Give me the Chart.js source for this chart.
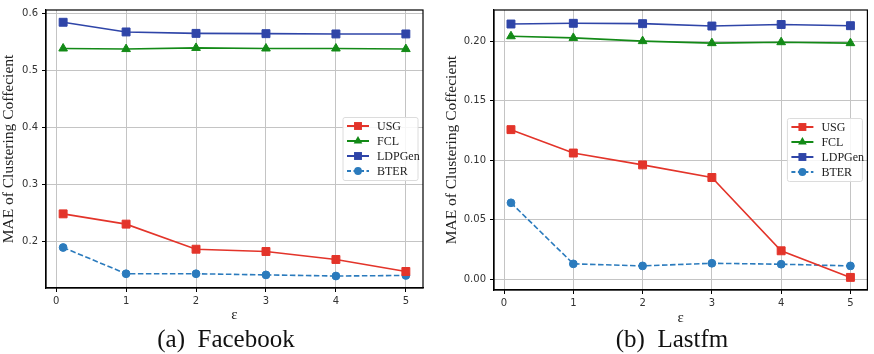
<!DOCTYPE html>
<html>
<head>
<meta charset="utf-8">
<script src="https://cdn.jsdelivr.net/npm/chart.js@4"></script>
<style>
  body { margin: 0; background: #fff; }
  #wrap { position: relative; width: 874px; height: 354px; overflow: hidden; }
  .pane { position: absolute; top: 0; width: 437px; height: 354px; }
  .caption { position: absolute; top: 325px; font-family: 'Liberation Serif', serif; font-size: 25px; color: #111; white-space: nowrap; transform: translateX(-50%); }
</style>
</head>
<body>
<div id="wrap">
  <div class="pane" style="left:0"><canvas id="chartFacebook" width="437" height="354"></canvas></div>
  <div class="pane" style="left:437px"><canvas id="chartLastfm" width="437" height="354"></canvas></div>
  <div class="caption" style="left:226px">(a)&nbsp; Facebook</div>
  <div class="caption" style="left:672px">(b)&nbsp; Lastfm</div>
</div>
<script>
// valores de epsilon (eixo x)
var epsilons = [0.1, 1, 2, 3, 4, 5];
var xTicks = [0, 1, 2, 3, 4, 5];

// Facebook
var fbUSG    = [0.248, 0.230, 0.186, 0.182, 0.168, 0.147];
var fbFCL    = [0.538, 0.537, 0.539, 0.538, 0.538, 0.537];
var fbLDPGen = [0.584, 0.567, 0.5645, 0.564, 0.5635, 0.5635];
var fbBTER   = [0.189, 0.143, 0.143, 0.141, 0.139, 0.140];
var fbYTicks = [0.2, 0.3, 0.4, 0.5, 0.6];

// Lastfm
var lfUSG    = [0.1258, 0.1061, 0.0961, 0.0855, 0.0238, 0.0014];
var lfFCL    = [0.2044, 0.2030, 0.2003, 0.1986, 0.1994, 0.1986];
var lfLDPGen = [0.2147, 0.2153, 0.2150, 0.2130, 0.2143, 0.2133];
var lfBTER   = [0.0642, 0.0128, 0.0111, 0.0133, 0.0125, 0.0111];
var lfYTicks = [0.00, 0.05, 0.10, 0.15, 0.20];

var series = [
  { label: 'USG',    color: '#e3342a', style: 'rect',     radius: 5.6, dash: [] },
  { label: 'FCL',    color: '#138a17', style: 'triangle', radius: 5,   dash: [] },
  { label: 'LDPGen', color: '#2f45a8', style: 'rect',     radius: 5.6, dash: [] },
  { label: 'BTER',   color: '#2b7bbd', style: 'circle',   radius: 3.9, dash: [5.5, 2.5] }
];

function pts(values) {
  return epsilons.map(function (e, i) { return { x: e, y: values[i] }; });
}

function makeDatasets(lists) {
  return series.map(function (s, i) {
    return {
      label: s.label,
      data: pts(lists[i]),
      borderColor: s.color,
      backgroundColor: s.color,
      borderWidth: 1.6,
      borderDash: s.dash,
      pointStyle: s.style,
      pointRadius: s.radius,
      pointBorderWidth: 1,
      tension: 0
    };
  });
}

function drawMarker(ctx, style, r, x, y) {
  ctx.beginPath();
  if (style === 'rect') {
    var h = r * Math.SQRT1_2;
    ctx.rect(x - h, y - h, 2 * h, 2 * h);
  } else if (style === 'triangle') {
    ctx.moveTo(x, y - r);
    ctx.lineTo(x + r * 0.866, y + r * 0.5);
    ctx.lineTo(x - r * 0.866, y + r * 0.5);
    ctx.closePath();
  } else {
    ctx.arc(x, y, r, 0, Math.PI * 2);
  }
  ctx.fill();
}

// moldura + legenda dentro da área do gráfico (center right)
var framePlugin = {
  id: 'frameLegend',
  afterDraw: function (chart) {
    var ctx = chart.ctx;
    var a = chart.chartArea;
    ctx.save();
    ctx.strokeStyle = '#000';
    ctx.lineWidth = 1.2;
    ctx.strokeRect(a.left, a.top, a.right - a.left, a.bottom - a.top);

    var w = 75, h = 63;
    var bx = a.right - 5 - w;
    var by = (a.top + a.bottom) / 2 - h / 2;
    ctx.fillStyle = 'rgba(255,255,255,0.85)';
    ctx.strokeStyle = '#dcdcdc';
    ctx.lineWidth = 1;
    ctx.beginPath();
    ctx.roundRect(bx, by, w, h, 2);
    ctx.fill();
    ctx.stroke();

    ctx.font = '12px "Liberation Serif", serif';
    ctx.textBaseline = 'middle';
    series.forEach(function (s, i) {
      var y = by + 8.5 + i * 15;
      ctx.strokeStyle = s.color;
      ctx.fillStyle = s.color;
      ctx.lineWidth = 2;
      ctx.setLineDash(s.dash.length ? [4, 2.5] : []);
      ctx.beginPath();
      ctx.moveTo(bx + 4, y);
      ctx.lineTo(bx + 26, y);
      ctx.stroke();
      ctx.setLineDash([]);
      drawMarker(ctx, s.style, s.radius, bx + 15, y);
      ctx.fillStyle = '#222';
      ctx.fillText(s.label, bx + 34, y + 0.5);
    });
    ctx.restore();
  }
};

function buildChart(id, lists, yTicks, opts) {
  var ctx = document.getElementById(id).getContext('2d');
  return new Chart(ctx, {
    type: 'line',
    data: { datasets: makeDatasets(lists) },
    options: {
      responsive: false,
      animation: false,
      layout: { padding: { top: opts.top, right: opts.right, left: 0, bottom: 0 } },
      plugins: { legend: { display: false }, tooltip: { enabled: false } },
      scales: {
        x: {
          type: 'linear',
          min: opts.xMin, max: opts.xMax,
          afterBuildTicks: function (s) { s.ticks = xTicks.map(function (v) { return { value: v }; }); },
          afterFit: function (s) { s.height = opts.xHeight; },
          ticks: {
            font: { family: 'DejaVu Sans', size: 10 },
            color: '#333', padding: 3, maxRotation: 0,
            callback: function (v) { return String(v); }
          },
          grid: { color: '#c4c4c4', tickColor: '#000', tickLength: 4, lineWidth: 1 },
          border: { display: true, color: '#000', width: 1.2 },
          title: {
            display: true, text: 'ε', color: '#222',
            font: { family: 'Liberation Serif', size: 15 },
            padding: { top: 0, bottom: opts.epsPad }
          }
        },
        y: {
          min: opts.yMin, max: opts.yMax,
          afterBuildTicks: function (s) { s.ticks = yTicks.map(function (v) { return { value: v }; }); },
          afterFit: function (s) { s.width = opts.yWidth; },
          ticks: {
            font: { family: 'DejaVu Sans', size: 10 },
            color: '#333', padding: 4,
            callback: function (v) { return v.toFixed(opts.decimals); }
          },
          grid: { color: '#c4c4c4', tickColor: '#000', tickLength: 4, lineWidth: 1 },
          border: { display: true, color: '#000', width: 1.2 },
          title: {
            display: true, text: 'MAE of Clustering Coffecient', color: '#222',
            font: { family: 'Liberation Serif', size: 15.5 },
            padding: { top: opts.titlePad, bottom: 0 }
          }
        }
      }
    },
    plugins: [framePlugin]
  });
}

var chartFacebook = buildChart('chartFacebook', [fbUSG, fbFCL, fbLDPGen, fbBTER], fbYTicks, {
  top: 10, right: 14, yWidth: 46, xHeight: 66,
  xMin: -0.145, xMax: 5.245, yMin: 0.118, yMax: 0.6055,
  decimals: 1, titlePad: 0, epsPad: 30
});

var chartLastfm = buildChart('chartLastfm', [lfUSG, lfFCL, lfLDPGen, lfBTER], lfYTicks, {
  top: 7, right: 1, yWidth: 57, xHeight: 64,
  xMin: -0.145, xMax: 5.245, yMin: -0.0092, yMax: 0.2265,
  decimals: 2, titlePad: 6, epsPad: 27
});
</script>
</body>
</html>
